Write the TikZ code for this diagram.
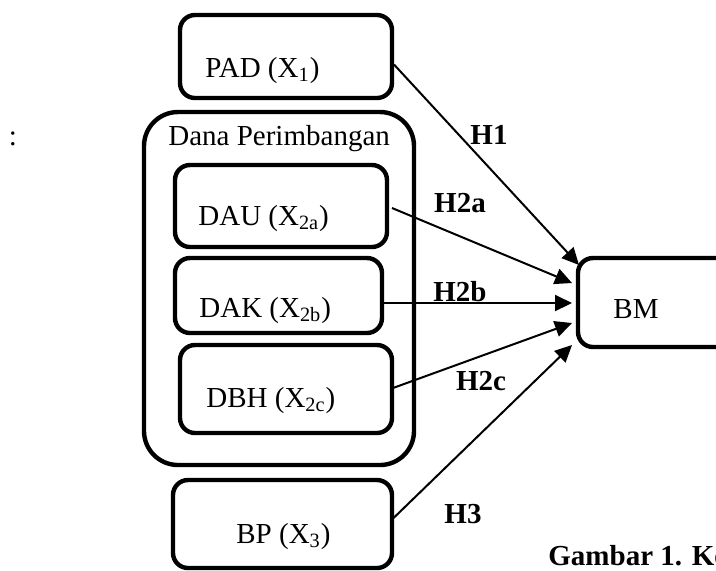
\documentclass[tikz,border=0pt]{standalone}
\usepackage{fontspec}
\setmainfont{Liberation Serif}
\usetikzlibrary{arrows.meta,positioning}

\begin{document}
\begin{tikzpicture}[
  x=0.5pt, y=-0.5pt,
  box/.style={draw=black, line width=2.2pt, rounded corners=7.5pt,
              inner sep=0pt, outer sep=0pt},
  group box/.style={box, rounded corners=17pt},
  box text/.style={anchor=base west, inner sep=0pt,
                   font=\fontsize{14.5pt}{17pt}\selectfont},
  hyp/.style={font=\fontsize{14.5pt}{17pt}\selectfont\bfseries, inner sep=0pt},
  link/.style={->, line width=1pt},
  >={Triangle[length=8.5pt,width=8pt]}
]
  \useasboundingbox (0,0) rectangle (716,570);

  % Dana Perimbangan group
  \node[group box, minimum width=135pt, minimum height=176.5pt] (dana) at (279,288.5) {};
  \node[box text] (danaT) at (168,145) {Dana Perimbangan};

  % Independent variables
  \node[box, minimum width=106pt, minimum height=41.5pt] (pad) at (286,56.5) {};
  \node[box text] (padT) at (205,77) {PAD (X\textsubscript{1})};

  \node[box, minimum width=106pt, minimum height=41pt] (dau) at (281,206) {};
  \node[box text] (dauT) at (198,225) {DAU (X\textsubscript{2a})};

  \node[box, minimum width=103.5pt, minimum height=37.5pt] (dak) at (278.5,295.5) {};
  \node[box text] (dakT) at (199,317) {DAK (X\textsubscript{2b})};

  \node[box, minimum width=106pt, minimum height=44pt] (dbh) at (286,389) {};
  \node[box text] (dbhT) at (206,407) {DBH (X\textsubscript{2c})};

  \node[box, minimum width=109.5pt, minimum height=44pt] (bp) at (282.5,524) {};
  \node[box text] (bpT) at (236,543) {BP (X\textsubscript{3})};

  % Dependent variable
  \node[box, minimum width=81pt, minimum height=44.5pt] (bm) at (659,302.5) {};
  \node[box text] (bmT) at (613,318) {BM};

  % Hypothesis paths
  \draw[link] ([shift={(2,8)}]pad.east) -- ([shift={(1,-37.5)}]bm.west);
  \draw[link] ([shift={(5,2)}]dau.east) -- ([shift={(-6,-19.5)}]bm.west);
  \draw[link] ([shift={(0,7.5)}]dak.east) -- ([shift={(-6,0.5)}]bm.west);
  \draw[link] ([shift={(1,-1)}]dbh.east) -- ([shift={(-6,20.5)}]bm.west);
  \draw[link] ([shift={(1,-5.5)}]bp.east) -- ([shift={(-6,42.5)}]bm.west);

  % Path labels
  \node[hyp] (h1)  at (489,135) {H1};
  \node[hyp] (h2a) at (460,203) {H2a};
  \node[hyp] (h2b) at (460,292) {H2b};
  \node[hyp] (h2c) at (481,381) {H2c};
  \node[hyp] (h3)  at (463,514) {H3};

  % Stray text
  \node[box text, anchor=center] (colon) at (13,139) {:};
  \node[hyp, anchor=base west] (caption) at (548,565) {Gambar 1. Ke};
\end{tikzpicture}
\end{document}
